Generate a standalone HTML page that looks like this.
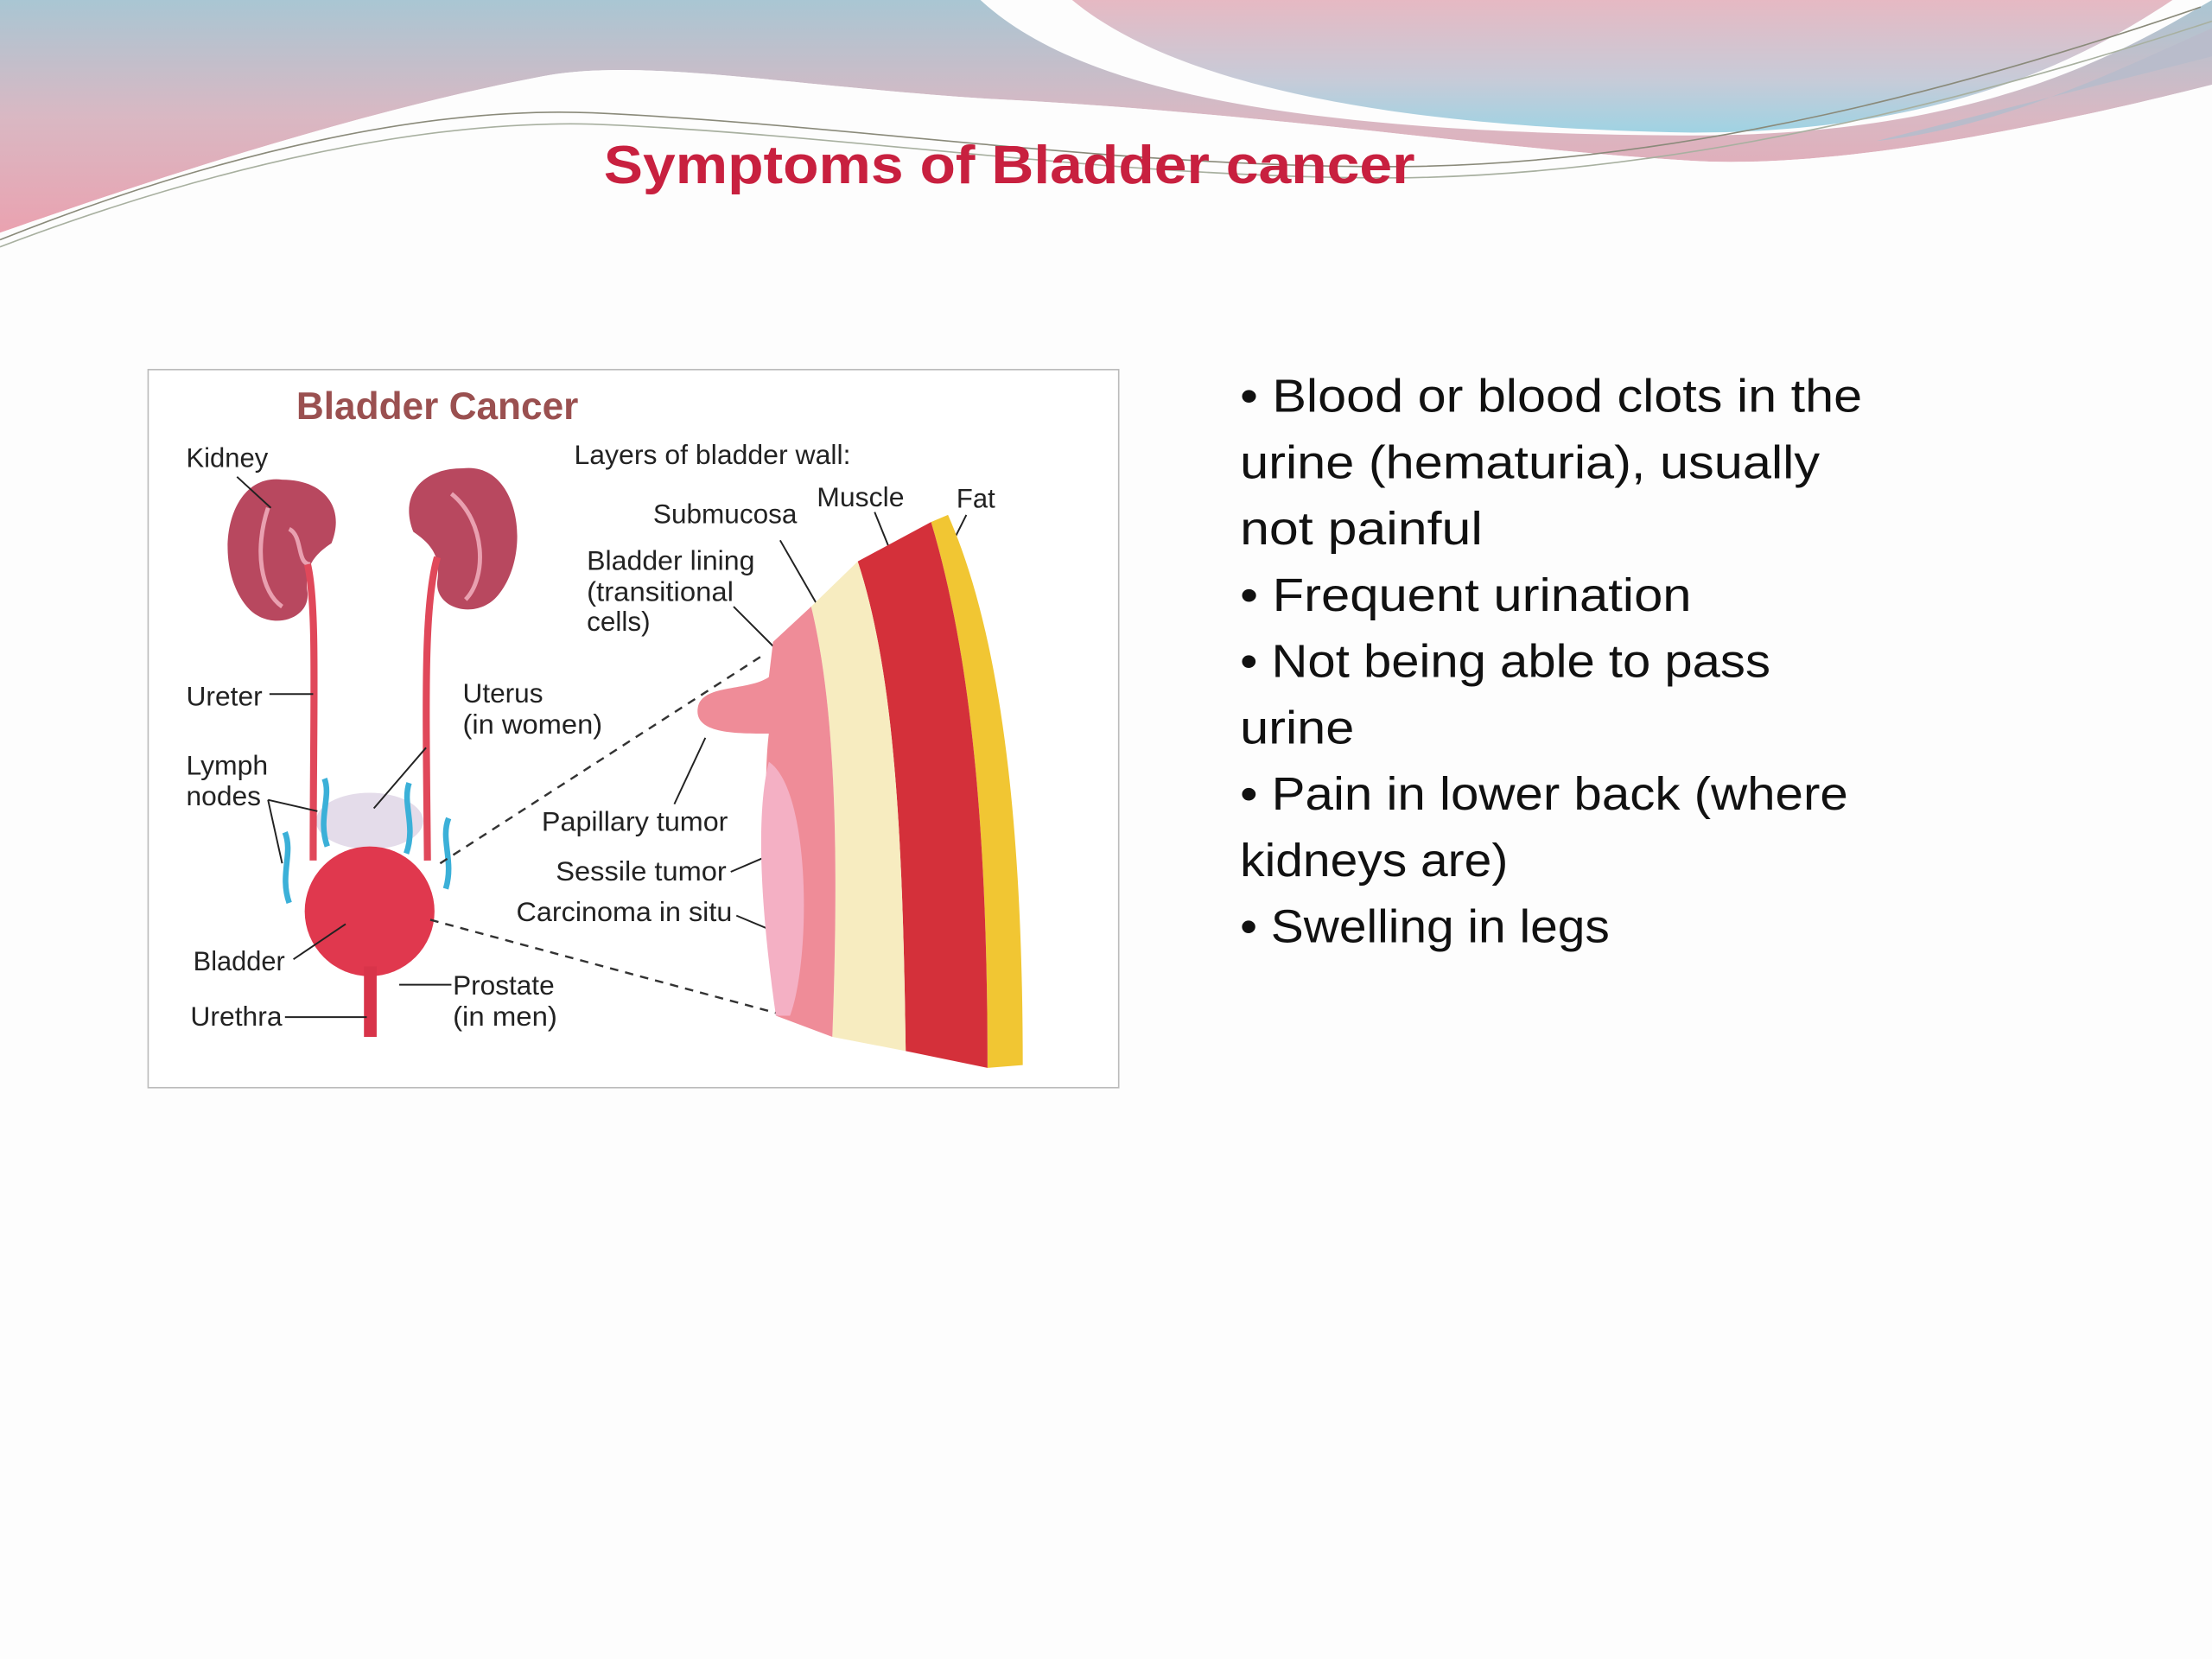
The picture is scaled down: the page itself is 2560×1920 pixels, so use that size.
<!DOCTYPE html>
<html><head><meta charset="utf-8"><style>
html,body{margin:0;padding:0;background:#fff;}
svg{display:block;}
</style></head><body>
<svg width="2560" height="1920" viewBox="0 0 1568 1176" preserveAspectRatio="none" xmlns="http://www.w3.org/2000/svg">
<defs>
<linearGradient id="hg" x1="0" y1="0" x2="0" y2="1">
<stop offset="0" stop-color="#a9c6d3"/><stop offset="0.5" stop-color="#d9b8c3"/><stop offset="1" stop-color="#eaa2b0"/>
</linearGradient>
<linearGradient id="hg2" x1="0" y1="0" x2="0" y2="1">
<stop offset="0" stop-color="#e6b9c3"/><stop offset="0.6" stop-color="#c7cbd8"/><stop offset="1" stop-color="#9fd3e3"/>
</linearGradient>
</defs>
<rect width="1568" height="1176" fill="#fdfdfd"/>
<!-- header -->
<path d="M0 0 H1568 V60 C1450 90 1300 120 1200 114 C1050 105 900 80 700 70 C550 60 450 40 380 55 C250 80 100 130 0 165 Z" fill="url(#hg)"/>
<path d="M0 165 C100 130 250 80 380 55 C450 40 550 60 700 70 C900 80 1050 105 1200 114 C1300 120 1450 90 1568 60 V200 H0 Z" fill="#fdfdfd"/>
<path d="M695 0 C760 60 900 95 1200 96 C1400 96 1500 40 1568 0 Z" fill="#fdfdfd"/>
<path d="M760 0 C820 50 950 90 1200 94 C1380 94 1480 40 1540 0 Z" fill="url(#hg2)"/>
<path d="M1568 20 C1500 50 1420 90 1330 100 L1568 40 Z" fill="#b9bccb"/>
<path d="M0 170 C150 110 300 75 420 80 C600 88 800 120 1000 118 C1200 115 1400 60 1560 5" fill="none" stroke="#8a8a7a" stroke-width="1"/>
<path d="M0 175 C150 118 300 85 420 88 C600 95 800 128 1000 126 C1200 122 1400 70 1568 15" fill="none" stroke="#a8b0a0" stroke-width="1"/>
<text x="428" y="130" textLength="575" lengthAdjust="spacingAndGlyphs" font-family="Liberation Sans, sans-serif" font-weight="bold" font-size="38" fill="#c8203f">Symptoms of  Bladder cancer</text>

<!-- image box -->
<rect x="105" y="262" width="688" height="509" fill="#fff" stroke="#bbb" stroke-width="1"/>
<g font-family="Liberation Sans, sans-serif" fill="#222" font-size="19">
<text x="210" y="297" font-size="27" font-weight="bold" fill="#9a5050" textLength="200" lengthAdjust="spacingAndGlyphs">Bladder Cancer</text>
<text x="132" y="331" textLength="58" lengthAdjust="spacingAndGlyphs">Kidney</text>
<text x="407" y="329" textLength="196" lengthAdjust="spacingAndGlyphs">Layers of bladder wall:</text>
<text x="463" y="371" textLength="102" lengthAdjust="spacingAndGlyphs">Submucosa</text>
<text x="579" y="359" textLength="62" lengthAdjust="spacingAndGlyphs">Muscle</text>
<text x="678" y="360">Fat</text>
<text x="416" y="404" textLength="119" lengthAdjust="spacingAndGlyphs">Bladder lining</text>
<text x="416" y="426" textLength="104" lengthAdjust="spacingAndGlyphs">(transitional</text>
<text x="416" y="447" textLength="45" lengthAdjust="spacingAndGlyphs">cells)</text>
<text x="132" y="500" textLength="54" lengthAdjust="spacingAndGlyphs">Ureter</text>
<text x="328" y="498" textLength="57" lengthAdjust="spacingAndGlyphs">Uterus</text>
<text x="328" y="520" textLength="99" lengthAdjust="spacingAndGlyphs">(in women)</text>
<text x="132" y="549" textLength="58" lengthAdjust="spacingAndGlyphs">Lymph</text>
<text x="132" y="571" textLength="53" lengthAdjust="spacingAndGlyphs">nodes</text>
<text x="384" y="589" textLength="132" lengthAdjust="spacingAndGlyphs">Papillary tumor</text>
<text x="394" y="624" textLength="121" lengthAdjust="spacingAndGlyphs">Sessile tumor</text>
<text x="366" y="653" textLength="153" lengthAdjust="spacingAndGlyphs">Carcinoma in situ</text>
<text x="137" y="688" textLength="65" lengthAdjust="spacingAndGlyphs">Bladder</text>
<text x="321" y="705" textLength="72" lengthAdjust="spacingAndGlyphs">Prostate</text>
<text x="321" y="727" textLength="74" lengthAdjust="spacingAndGlyphs">(in men)</text>
<text x="135" y="727" textLength="65" lengthAdjust="spacingAndGlyphs">Urethra</text>
</g>
<!-- organs -->
<g>
<path d="M200 340 C160 335 150 400 175 430 C190 448 220 440 218 420 C215 400 225 392 235 385 C245 360 230 340 200 340Z" fill="#b8485f"/>
<path d="M328 332 C368 327 378 392 353 422 C338 440 308 432 310 412 C313 392 303 384 293 377 C283 352 298 332 328 332Z" fill="#b8485f"/>
<path d="M190 360 C180 390 185 420 200 430 M205 375 C215 380 210 400 220 400 M320 350 C345 370 345 410 330 425" stroke="#e9a0b0" stroke-width="3" fill="none"/>
<ellipse cx="262" cy="582" rx="38" ry="20" fill="#e4dcea"/>
<path d="M218 400 C225 430 222 500 222 610" stroke="#e0485a" stroke-width="5" fill="none"/>
<path d="M310 395 C300 430 302 500 303 610" stroke="#e0485a" stroke-width="5" fill="none"/>
<circle cx="262" cy="646" r="46" fill="#e0384e"/>
<path d="M258 685 L258 735 L267 735 L267 685Z" fill="#d8344a"/>
<g stroke="#3bb0d8" stroke-width="4" fill="none">
<path d="M230 552 C235 565 225 580 232 600 M202 590 C208 605 198 620 205 640 M290 555 C285 570 295 585 288 605 M318 580 C312 595 322 610 316 630"/>
</g>
<g stroke="#222" stroke-width="1.2" fill="none">
<path d="M168 338 L192 360 M191 492 L222 492 M302 530 L265 573 M190 567 L225 575 M190 567 L200 612 M208 680 L245 655 M320 698 L283 698 M202 721 L260 721"/>
<path d="M553 383 L580 430 M620 363 L635 400 M685 365 L675 385 M520 430 L548 458 M500 523 L478 570 M518 618 L560 600 M522 649 L560 665"/>
</g>
<g stroke="#333" stroke-width="1.5" stroke-dasharray="6,5" fill="none">
<path d="M312 612 L540 465 M305 652 L550 718"/>
</g>
<!-- wall layers -->
<path d="M672 365 C705 440 725 560 725 755 L700 757 C700 600 690 470 660 370Z" fill="#f1c633"/>
<path d="M660 370 C690 470 700 600 700 757 L642 745 C640 600 635 480 608 398Z" fill="#d4303a"/>
<path d="M608 398 C635 480 640 600 642 745 L590 735 C595 600 592 500 575 430Z" fill="#f7ecc0"/>
<path d="M575 430 C592 500 595 600 590 735 L550 720 C545 650 540 560 545 520 C520 520 490 520 495 500 C500 485 530 490 545 480 L548 455Z" fill="#ef8c98"/>
<path d="M545 540 C575 560 575 680 560 720 L550 720 C540 650 535 580 545 540Z" fill="#f4b0c4"/>
</g>

<!-- bullets -->
<g font-family="Liberation Sans, sans-serif" font-size="33" fill="#111">
<text x="879" y="292" textLength="441" lengthAdjust="spacingAndGlyphs">• Blood or blood clots in the</text>
<text x="879" y="339" textLength="411" lengthAdjust="spacingAndGlyphs">urine (hematuria), usually</text>
<text x="879" y="386" textLength="172" lengthAdjust="spacingAndGlyphs">not painful</text>
<text x="879" y="433" textLength="320" lengthAdjust="spacingAndGlyphs">• Frequent urination</text>
<text x="879" y="480" textLength="376" lengthAdjust="spacingAndGlyphs">• Not being able to pass</text>
<text x="879" y="527" textLength="81" lengthAdjust="spacingAndGlyphs">urine</text>
<text x="879" y="574" textLength="431" lengthAdjust="spacingAndGlyphs">• Pain in lower back (where</text>
<text x="879" y="621" textLength="190" lengthAdjust="spacingAndGlyphs">kidneys are)</text>
<text x="879" y="668" textLength="262" lengthAdjust="spacingAndGlyphs">• Swelling in legs</text>
</g>
</svg>
</body></html>
